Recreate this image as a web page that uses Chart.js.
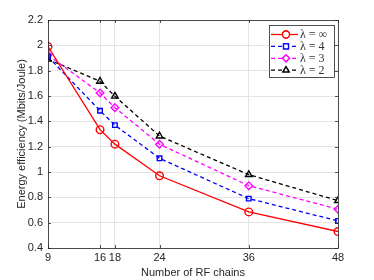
<!DOCTYPE html>
<html>
<head>
<meta charset="utf-8">
<script src="https://cdn.jsdelivr.net/npm/chart.js@4/dist/chart.umd.min.js"></script>
<style>
  html, body { margin: 0; padding: 0; background: #fff; }
  #wrap { width: 374px; height: 280px; }
</style>
</head>
<body>
<div id="wrap"><canvas id="myChart" width="374" height="280"></canvas></div>
<script>
// values
const rfChains = [9, 16, 18, 24, 36, 48];
const lamInf = [1.99, 1.334, 1.22, 0.97, 0.685, 0.53];
const lam4 = [1.91, 1.484, 1.37, 1.108, 0.79, 0.614];
const lam3 = [1.924, 1.624, 1.508, 1.219, 0.892, 0.706];
const lam2 = [1.89, 1.716, 1.598, 1.284, 0.979, 0.774];
const yTicks = [0.4, 0.6, 0.8, 1, 1.2, 1.4, 1.6, 1.8, 2, 2.2];
const legendLabels = ["λ = ∞", "λ = 4", "λ = 3", "λ = 2"];

const toPoints = (ys) => rfChains.map((x, i) => ({ x: x, y: ys[i] }));

const series = [
  { data: lamInf, color: "#ff0000", dash: [], marker: "circle" },
  { data: lam4, color: "#0000ff", dash: [4, 3], marker: "rect" },
  { data: lam3, color: "#ff00ff", dash: [4, 3], marker: "rectRot" },
  { data: lam2, color: "#000000", dash: [4, 3], marker: "triangle" },
];

// legend drawn inside the plot, like the matlab one
const innerLegend = {
  id: "innerLegend",
  afterDraw(chart) {
    const ctx = chart.ctx;
    const area = chart.chartArea;
    const x0 = area.right - 69, y0 = area.top + 5, w = 65, h = 52;
    ctx.save();
    ctx.fillStyle = "#fff";
    ctx.fillRect(x0, y0, w, h);
    ctx.strokeStyle = "#262626";
    ctx.lineWidth = 0.8;
    ctx.strokeRect(x0 + 0.5, y0 + 0.5, w, h);
    chart.data.datasets.forEach((ds, i) => {
      const y = y0 + 9.5 + i * 11.9;
      ctx.strokeStyle = ds.borderColor;
      ctx.lineWidth = 1.3;
      ctx.setLineDash(ds.borderDash);
      ctx.beginPath();
      ctx.moveTo(x0 + 2, y);
      ctx.lineTo(x0 + 29, y);
      ctx.stroke();
      ctx.setLineDash([]);
      ctx.fillStyle = "#fff";
      Chart.helpers.drawPoint(ctx, {
        pointStyle: ds.pointStyle, radius: 3.5, borderWidth: 1.4, rotation: 0
      }, x0 + 17, y);
      ctx.fill();
      ctx.stroke();
      ctx.fillStyle = "#333";
      ctx.font = "12px 'Liberation Serif', serif";
      ctx.textBaseline = "middle";
      ctx.fillText(legendLabels[i], x0 + 31, y + 0.5);
    });
    ctx.restore();
  },
};

// inward tick marks on all four sides
const innerTicks = {
  id: "innerTicks",
  afterDatasetsDraw(chart) {
    const ctx = chart.ctx;
    const a = chart.chartArea;
    const xs = chart.scales.x, ys = chart.scales.y;
    ctx.save();
    ctx.strokeStyle = "#262626";
    ctx.lineWidth = 0.8;
    ctx.beginPath();
    rfChains.forEach((v) => {
      const px = Math.round(xs.getPixelForValue(v)) + 0.5;
      ctx.moveTo(px, a.bottom); ctx.lineTo(px, a.bottom - 3);
      ctx.moveTo(px, a.top); ctx.lineTo(px, a.top + 3);
    });
    yTicks.forEach((v) => {
      const py = Math.round(ys.getPixelForValue(v)) + 0.5;
      ctx.moveTo(a.left, py); ctx.lineTo(a.left + 3, py);
      ctx.moveTo(a.right, py); ctx.lineTo(a.right - 3, py);
    });
    ctx.stroke();
    ctx.strokeRect(a.left + 0.5, a.top + 0.5, a.right - a.left, a.bottom - a.top);
    ctx.restore();
  },
};

Chart.defaults.font.family = "'Liberation Sans', Arial, sans-serif";
Chart.defaults.font.size = 11;
Chart.defaults.color = "#262626";

const ctx = document.getElementById("myChart").getContext("2d");
const chart = new Chart(ctx, {
  type: "line",
  data: {
    datasets: series.map((s, i) => ({
      label: legendLabels[i],
      data: toPoints(s.data),
      borderColor: s.color,
      backgroundColor: "rgba(0,0,0,0)",
      borderDash: s.dash,
      borderWidth: 1.3,
      pointStyle: s.marker,
      pointRadius: s.marker === "rect" ? 3.2 : 3.8,
      pointBorderWidth: 1.4,
      pointBorderColor: s.color,
      pointBackgroundColor: "rgba(0,0,0,0)",
      tension: 0,
      fill: false,
    })),
  },
  options: {
    responsive: false,
    animation: false,
    layout: { padding: { top: 20, right: 36, left: 15, bottom: 0 } },
    plugins: { legend: { display: false }, tooltip: { enabled: false } },
    scales: {
      x: {
        type: "linear",
        min: 9,
        max: 48,
        afterBuildTicks: (axis) => { axis.ticks = rfChains.map((v) => ({ value: v })); },
        ticks: { autoSkip: false, maxRotation: 0, padding: 3, font: { size: 11 } },
        grid: { color: "#e5e5e5", drawTicks: false },
        border: { display: false },
        title: { display: true, text: "Number of RF chains", padding: { top: 5, bottom: 0 }, font: { size: 11 } },
        afterFit: (axis) => { axis.height = 32; },
      },
      y: {
        min: 0.4,
        max: 2.2,
        afterBuildTicks: (axis) => { axis.ticks = yTicks.map((v) => ({ value: v })); },
        ticks: { padding: 5, callback: (v) => String(+v.toFixed(1)), font: { size: 11 } },
        grid: { color: "#e5e5e5", drawTicks: false },
        border: { display: false },
        title: { display: true, text: "Energy efficiency (Mbits/Joule)", padding: { top: 0, bottom: 0 }, font: { size: 11 } },
        afterFit: (axis) => { axis.width = 33; },
      },
    },
  },
  plugins: [innerTicks, innerLegend],
});
</script>
</body>
</html>
